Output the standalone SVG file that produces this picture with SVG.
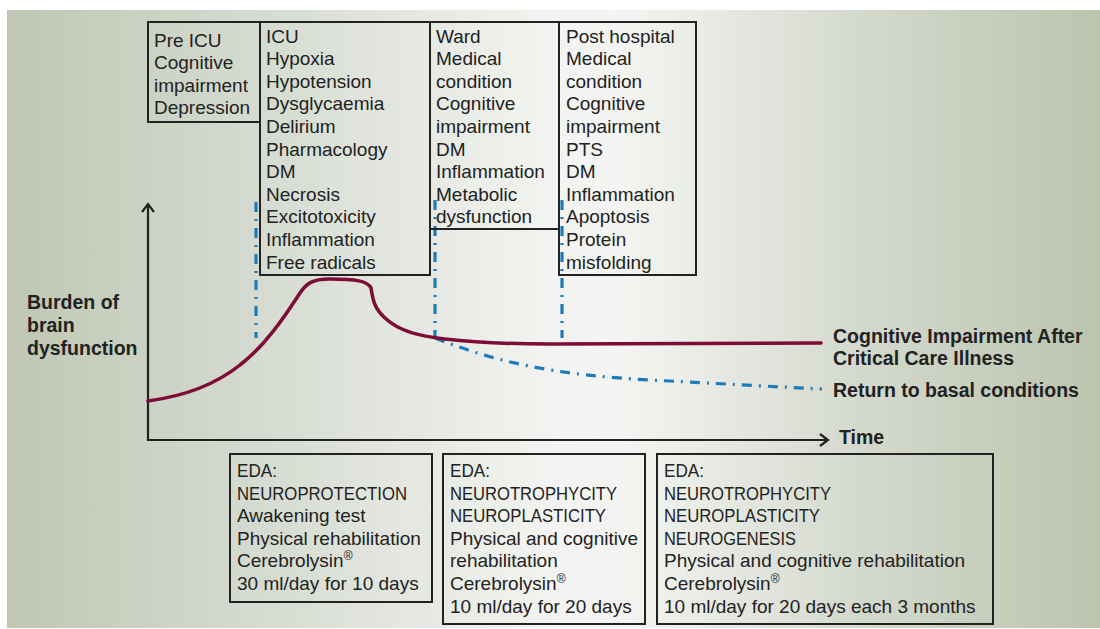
<svg xmlns="http://www.w3.org/2000/svg" width="1100" height="629" viewBox="0 0 1100 629">
<defs>
<linearGradient id="bg" gradientUnits="userSpaceOnUse" x1="7" y1="0" x2="1100" y2="0">
<stop offset="0" stop-color="#bfc7b3"/>
<stop offset="0.22" stop-color="#d4dacf"/>
<stop offset="0.5" stop-color="#f3f4f1"/>
<stop offset="0.56" stop-color="#f4f5f2"/>
<stop offset="0.78" stop-color="#d4d9cd"/>
<stop offset="1" stop-color="#bcc4ae"/>
</linearGradient>
<style>
.box{fill:none;stroke:#222;stroke-width:2}
.t{font-family:"Liberation Sans",Arial,sans-serif;font-size:19px;fill:#222}
.b{font-family:"Liberation Sans",Arial,sans-serif;font-size:19.5px;font-weight:bold;fill:#222}
.axis{fill:none;stroke:#222;stroke-width:2.2}
.red{fill:none;stroke:#7d0c37;stroke-width:3.5;stroke-linecap:round}
.blue{fill:none;stroke:#1d7bb8;stroke-width:3.2;stroke-dasharray:10 7 2 7}
.sup{font-size:12px}
</style>
</defs>
<rect x="0" y="0" width="1100" height="629" fill="#ffffff"/>
<rect x="7" y="10" width="1093" height="618" fill="url(#bg)"/>

<g id="connectors">
<path class="axis" d="M148,205 V440 H827"/>
<path class="axis" d="M142,212 L148,204 L154,212"/>
<path class="axis" d="M820,434 L828,440 L820,446"/>
<path class="blue" d="M256,202 V338"/>
<path class="blue" d="M435,200 V338"/>
<path class="blue" d="M562,200 V338"/>
<path class="blue" d="M435,338 C495,362 555,375 650,380 S780,387 822,389"/>
<path class="red" d="M148,401 C185,396 215,385 240,365 C265,346 285,316 298,296 C306,283 312,279 330,279 C355,279 368,281 371,288 C373,300 374,308 385,318 C400,332 420,336 445,339 C480,343 510,344 550,344 L821,343"/>
</g>

<g id="preicu">
<rect class="box" x="148" y="22" width="112" height="100"/>
<text class="t" x="154" y="46.5">Pre ICU</text>
<text class="t" x="154" y="69.1">Cognitive</text>
<text class="t" x="154" y="91.7">impairment</text>
<text class="t" x="154" y="114.3">Depression</text>
</g>

<g id="icu">
<rect class="box" x="260" y="22" width="170" height="253"/>
<text class="t" x="266" y="42.5">ICU</text>
<text class="t" x="266" y="65.1">Hypoxia</text>
<text class="t" x="266" y="87.7">Hypotension</text>
<text class="t" x="266" y="110.3">Dysglycaemia</text>
<text class="t" x="266" y="132.9">Delirium</text>
<text class="t" x="266" y="155.5">Pharmacology</text>
<text class="t" x="266" y="178.1">DM</text>
<text class="t" x="266" y="200.7">Necrosis</text>
<text class="t" x="266" y="223.3">Excitotoxicity</text>
<text class="t" x="266" y="245.9">Inflammation</text>
<text class="t" x="266" y="268.5">Free radicals</text>
</g>

<g id="ward">
<rect class="box" x="430" y="22" width="129" height="207"/>
<text class="t" x="436" y="42.5">Ward</text>
<text class="t" x="436" y="65.1">Medical</text>
<text class="t" x="436" y="87.7">condition</text>
<text class="t" x="436" y="110.3">Cognitive</text>
<text class="t" x="436" y="132.9">impairment</text>
<text class="t" x="436" y="155.5">DM</text>
<text class="t" x="436" y="178.1">Inflammation</text>
<text class="t" x="436" y="200.7">Metabolic</text>
<text class="t" x="436" y="223.3">dysfunction</text>
</g>

<g id="posthospital">
<rect class="box" x="559" y="22" width="137" height="253"/>
<text class="t" x="566" y="42.5">Post hospital</text>
<text class="t" x="566" y="65.1">Medical</text>
<text class="t" x="566" y="87.7">condition</text>
<text class="t" x="566" y="110.3">Cognitive</text>
<text class="t" x="566" y="132.9">impairment</text>
<text class="t" x="566" y="155.5">PTS</text>
<text class="t" x="566" y="178.1">DM</text>
<text class="t" x="566" y="200.7">Inflammation</text>
<text class="t" x="566" y="223.3">Apoptosis</text>
<text class="t" x="566" y="245.9">Protein</text>
<text class="t" x="566" y="268.5">misfolding</text>
</g>

<g id="ylabel">
<text class="b" x="27" y="309">Burden of</text>
<text class="b" x="27" y="332">brain</text>
<text class="b" x="27" y="355">dysfunction</text>
</g>

<g id="legend">
<text class="b" x="833" y="343">Cognitive Impairment After</text>
<text class="b" x="833" y="365">Critical Care Illness</text>
<text class="b" x="833" y="397">Return to basal conditions</text>
<text class="b" x="839" y="444">Time</text>
</g>

<g id="eda1">
<rect class="box" x="230" y="454" width="202" height="148"/>
<text class="t" x="237" y="477" textLength="40" lengthAdjust="spacingAndGlyphs">EDA:</text>
<text class="t" x="237" y="499.6" textLength="170" lengthAdjust="spacingAndGlyphs">NEUROPROTECTION</text>
<text class="t" x="237" y="522.2">Awakening test</text>
<text class="t" x="237" y="544.8">Physical rehabilitation</text>
<text class="t" x="237" y="567.4">Cerebrolysin<tspan class="sup" dy="-7">®</tspan></text>
<text class="t" x="237" y="590">30 ml/day for 10 days</text>
</g>

<g id="eda2">
<rect class="box" x="443" y="454" width="202" height="170"/>
<text class="t" x="450" y="477" textLength="40" lengthAdjust="spacingAndGlyphs">EDA:</text>
<text class="t" x="450" y="499.6" textLength="167" lengthAdjust="spacingAndGlyphs">NEUROTROPHYCITY</text>
<text class="t" x="450" y="522.2" textLength="156" lengthAdjust="spacingAndGlyphs">NEUROPLASTICITY</text>
<text class="t" x="450" y="544.8">Physical and cognitive</text>
<text class="t" x="450" y="567.4">rehabilitation</text>
<text class="t" x="450" y="590">Cerebrolysin<tspan class="sup" dy="-7">®</tspan></text>
<text class="t" x="450" y="612.6">10 ml/day for 20 days</text>
</g>

<g id="eda3">
<rect class="box" x="657" y="454" width="336" height="170"/>
<text class="t" x="664" y="477" textLength="40" lengthAdjust="spacingAndGlyphs">EDA:</text>
<text class="t" x="664" y="499.6" textLength="167" lengthAdjust="spacingAndGlyphs">NEUROTROPHYCITY</text>
<text class="t" x="664" y="522.2" textLength="156" lengthAdjust="spacingAndGlyphs">NEUROPLASTICITY</text>
<text class="t" x="664" y="544.8" textLength="132" lengthAdjust="spacingAndGlyphs">NEUROGENESIS</text>
<text class="t" x="664" y="567.4">Physical and cognitive rehabilitation</text>
<text class="t" x="664" y="590">Cerebrolysin<tspan class="sup" dy="-7">®</tspan></text>
<text class="t" x="664" y="612.6">10 ml/day for 20 days each 3 months</text>
</g>
</svg>
